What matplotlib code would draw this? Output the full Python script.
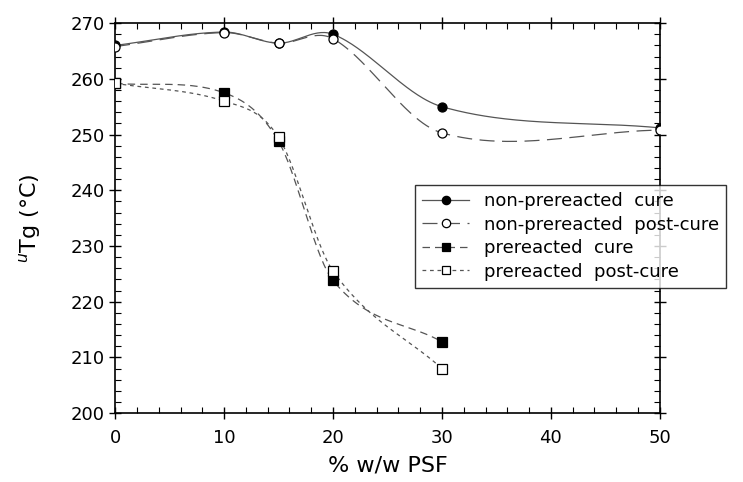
import numpy as np
import matplotlib.pyplot as plt
from matplotlib.ticker import MultipleLocator

# values
psf = [0, 10, 15, 20, 30, 50]
np_cure = [266.0, 268.4, 266.4, 268.0, 255.0, 251.2]
np_post = [265.8, 268.3, 266.4, 267.2, 250.3, 250.8]

psf_pre = [0, 10, 15, 20, 30]
pre_cure = [259.2, 257.5, 248.8, 223.8, 212.8]
pre_post = [259.2, 256.0, 249.5, 225.5, 208.0]


def smooth_curve(x, y, n=300):
    # cubic Hermite through the points, tangents from neighbouring points
    x = np.asarray(x, float)
    y = np.asarray(y, float)
    k = len(x)
    m = np.zeros(k)
    m[0] = (y[1] - y[0]) / (x[1] - x[0])
    m[-1] = (y[-1] - y[-2]) / (x[-1] - x[-2])
    for i in range(1, k - 1):
        m[i] = (y[i + 1] - y[i - 1]) / (x[i + 1] - x[i - 1])
    xs = np.linspace(x[0], x[-1], n)
    idx = np.clip(np.searchsorted(x, xs) - 1, 0, k - 2)
    h = x[idx + 1] - x[idx]
    t = (xs - x[idx]) / h
    h00 = 2 * t**3 - 3 * t**2 + 1
    h10 = t**3 - 2 * t**2 + t
    h01 = -2 * t**3 + 3 * t**2
    h11 = t**3 - t**2
    ys = h00 * y[idx] + h10 * h * m[idx] + h01 * y[idx + 1] + h11 * h * m[idx + 1]
    return xs, ys


plt.rcParams["font.family"] = ["DejaVu Sans"]

fig = plt.figure(figsize=(7.43, 4.82), dpi=100)
ax = fig.add_axes([0.155, 0.143, 0.733, 0.809])

line_c = "#555555"
series = [
    (psf, np_cure, "-", "o", "black", "non-prereacted  cure"),
    (psf, np_post, (0, (12, 6)), "o", "white", "non-prereacted  post-cure"),
    (psf_pre, pre_cure, (0, (6, 4)), "s", "black", "prereacted  cure"),
    (psf_pre, pre_post, (0, (3, 3)), "s", "white", "prereacted  post-cure"),
]

handles = []
for xv, yv, ls, mk, fc, lab in series:
    xs, ys = smooth_curve(xv, yv)
    ax.plot(xs, ys, color=line_c, lw=0.9, ls=ls)
    ax.plot(xv, yv, ls="none", marker=mk, ms=6.5, mfc=fc, mec="black", mew=0.9, zorder=3)
    h, = ax.plot([], [], color=line_c, lw=0.9, ls=ls, marker=mk, ms=6,
                 mfc=fc, mec="black", mew=0.9)
    handles.append(h)

ax.set_xlim(0, 50)
ax.set_ylim(200, 270)
ax.xaxis.set_major_locator(MultipleLocator(10))
ax.xaxis.set_minor_locator(MultipleLocator(2))
ax.yaxis.set_major_locator(MultipleLocator(10))
ax.yaxis.set_minor_locator(MultipleLocator(2))
ax.tick_params(which="major", direction="inout", length=9, width=1,
               top=True, right=True, labelsize=13)
ax.tick_params(axis="x", which="major", pad=7)
ax.tick_params(axis="y", which="major", pad=3)
ax.tick_params(which="minor", direction="in", length=4, width=0.8,
               top=True, right=True)
for s in ax.spines.values():
    s.set_linewidth(1.2)

ax.set_xlabel("% w/w PSF", fontsize=16, labelpad=6)
ax.set_ylabel("$^{u}$Tg (°C)", fontsize=16, labelpad=20)

leg = fig.legend(handles, [s[5] for s in series], loc="upper left",
                 bbox_to_anchor=(0.5585, 0.616), borderaxespad=0, fontsize=13,
                 frameon=True, fancybox=False, edgecolor="black",
                 handlelength=2.6, handletextpad=0.8, labelspacing=0.3,
                 borderpad=0.4)
leg.get_frame().set_linewidth(1.0)

fig.savefig("out.png", dpi=100)
